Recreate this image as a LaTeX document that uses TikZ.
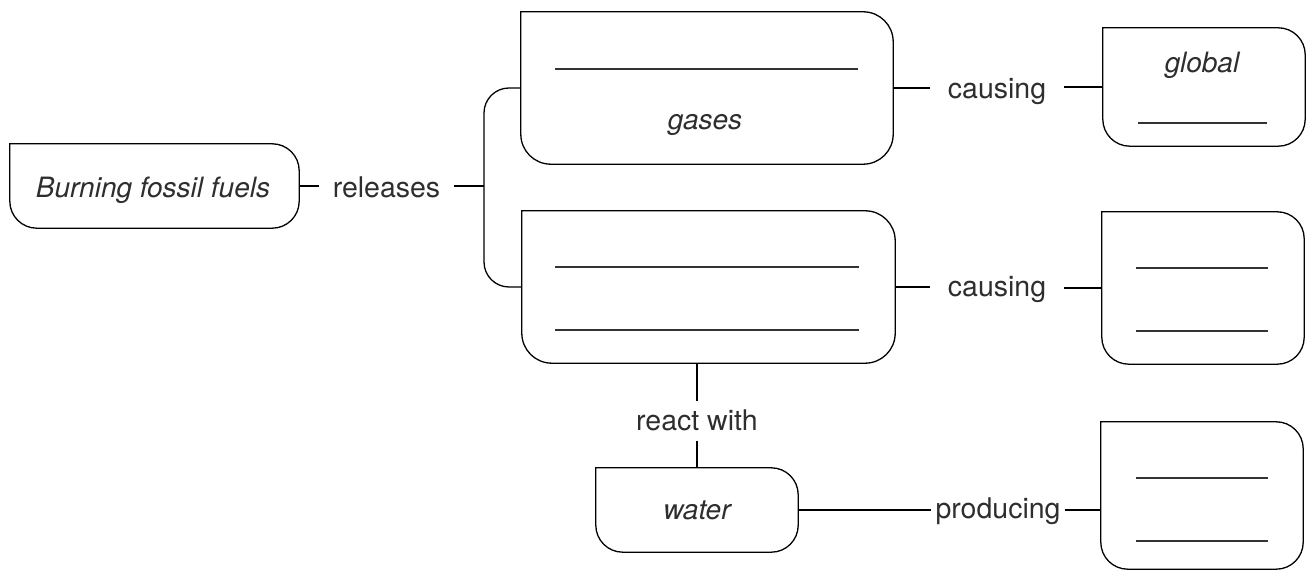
\documentclass[tikz,border=0pt]{standalone}
\usepackage{fontspec}
\setmainfont{TeX Gyre Heros}
\newcommand\leafline[2]{%
  \draw[boxline] (#1.north west) -- ([xshift=-#2]#1.north east)
    arc[start angle=90,end angle=0,radius=#2] -- ([yshift=#2]#1.south east)
    arc[start angle=0,end angle=-90,radius=#2] -- ([xshift=#2]#1.south west)
    arc[start angle=270,end angle=180,radius=#2] -- cycle;}
\begin{document}
\begin{tikzpicture}[x=1pt,y=1pt,
  boxnode/.style={rectangle,inner sep=0pt,draw=none},
  boxline/.style={line width=1.3pt,black},
  conn/.style={line width=1.3pt,black},
  blank/.style={line width=1.5pt,black!80},
  lbl/.style={font=\fontsize{28.5}{34}\selectfont,text=black!82,anchor=base,inner ysep=0pt},
  itl/.style={font=\fontsize{28}{34}\selectfont\itshape,text=black!82,anchor=base,inner sep=0pt}]
\useasboundingbox (0,0) rectangle (1315,570);
% boxes
\node[boxnode,minimum width=289pt,minimum height=84pt] (burn) at (154.5,384) {};
\node[boxnode,minimum width=372pt,minimum height=152pt] (gases) at (707,482) {};
\node[boxnode,minimum width=202pt,minimum height=118pt] (glob) at (1204,483) {};
\node[boxnode,minimum width=373pt,minimum height=152pt] (lowbox) at (708.5,283) {};
\node[boxnode,minimum width=202pt,minimum height=152pt] (rbox) at (1203,282) {};
\node[boxnode,minimum width=202pt,minimum height=84pt] (water) at (697,60) {};
\node[boxnode,minimum width=202pt,minimum height=147pt] (prod) at (1202,74.5) {};
\leafline{burn}{27pt}
\leafline{gases}{30pt}
\leafline{glob}{27pt}
\leafline{lowbox}{30pt}
\leafline{rbox}{27pt}
\leafline{water}{27pt}
\leafline{prod}{27pt}
% texts inside boxes
\node[itl] (tburn) at (153,372) {Burning fossil fuels};
\node[itl] (tgases) at (705,440) {gases};
\node[itl] (tglob) at (1202,497) {global};
\node[itl] (twater) at (697,50) {water};
% blanks
\draw[blank] (555,501) -- (858,501);
\draw[blank] (555,303) -- (859,303);
\draw[blank] (555,240) -- (859,240);
\draw[blank] (1138,447) -- (1267,447);
\draw[blank] (1136,302) -- (1268,302);
\draw[blank] (1136,239) -- (1268,239);
\draw[blank] (1136,92) -- (1268,92);
\draw[blank] (1136,29) -- (1268,29);
% connector labels
\node[lbl,inner xsep=14pt] (rel) at (386.5,372) {releases};
\node[lbl,inner xsep=18pt] (cau1) at (997,471) {causing};
\node[lbl,inner xsep=18pt] (cau2) at (997,273) {causing};
\node[lbl,inner xsep=0pt,inner ysep=9pt] (rw) at (697,139) {react with};
\node[lbl,inner xsep=4pt] (pr) at (998,51) {producing};
\coordinate (brk) at (484,384);
% connectors
\draw[conn] (burn.east) -- (burn.east -| rel.west);
\draw[conn] (burn.east -| rel.east) -- (brk);
\draw[conn,rounded corners=25pt] (gases.west) -| (brk) |- (lowbox.west);
\draw[conn] (gases.east) -- (gases.east -| cau1.west);
\draw[conn] (cau1.east |- glob.west) -- (glob.west);
\draw[conn] (lowbox.east) -- (lowbox.east -| cau2.west);
\draw[conn] (cau2.east |- rbox.west) -- (rbox.west);
\draw[conn] (lowbox.south -| water.north) -- (rw.north);
\draw[conn] (rw.south) -- (water.north);
\draw[conn] (water.east) -- (water.east -| pr.west);
\draw[conn] (pr.east |- water.east) -- (water.east -| prod.west);
\end{tikzpicture}
\end{document}
